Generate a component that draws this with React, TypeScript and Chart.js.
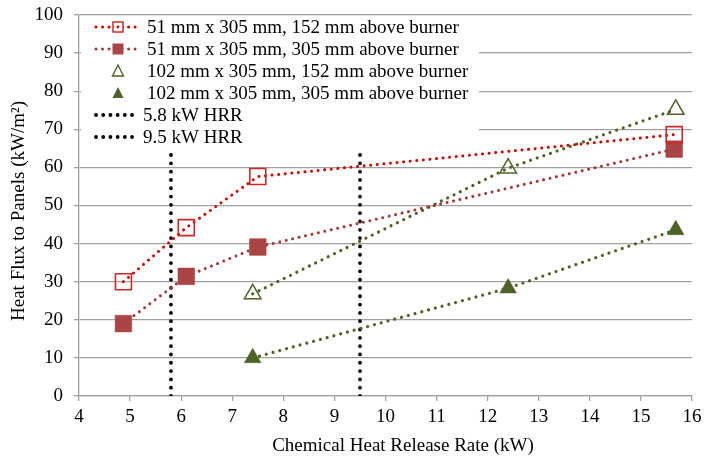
import React, { useEffect, useRef } from 'react';
import { Chart, registerables } from 'chart.js';

Chart.register(...registerables);

// ---- data ----
const hrrNarrow = [4.87, 6.1, 7.5, 15.65];
const fluxNarrow152 = [30, 44.2, 57.6, 68.6];
const fluxNarrow305 = [19, 31.4, 39.1, 64.8];
const hrrWide = [7.4, 12.4, 15.68];
const fluxWide152 = [26.8, 59.8, 75.2];
const fluxWide305 = [10, 28.3, 43.6];
const hrrReference = [5.8, 9.5];
const referenceSpan = [0, 65];

const seriesLabels = [
  '51 mm x 305 mm, 152 mm above burner',
  '51 mm x 305 mm, 305 mm above burner',
  '102 mm x 305 mm, 152 mm above burner',
  '102 mm x 305 mm, 305 mm above burner',
  '5.8 kW HRR',
  '9.5 kW HRR',
];

const X_MIN = 4;
const X_MAX = 16;
const X_STEP = 1;
const Y_MIN = 0;
const Y_MAX = 100;
const Y_STEP = 10;

const xTitle = 'Chemical Heat Release Rate (kW)';
const yTitle = 'Heat Flux to Panels (kW/m²)';

// ---- styles ----
const FONT = '"Liberation Serif", "Times New Roman", serif';
const FONT_SIZE = 19;
const RED = '#d00000';
const RED_MARK = '#cc2a2a';
const DARK_RED = '#9e3a3a';
const DARK_RED_MARK = '#aa4545';
const GREEN = '#4f6228';
const GRID = '#a0a0a0';

const pts = (xs: number[], ys: number[]) => xs.map((x, i) => ({ x, y: ys[i] }));

type Sample = {
  line?: { color: string; width: number; dash: number[]; x0: number; x1: number };
  marker?: 'openRect' | 'rect' | 'openTri' | 'tri';
  color?: string;
  textX: number;
};

const legendSamples: Sample[] = [
  { line: { color: RED, width: 3, dash: [0.01, 6.5], x0: 96, x1: 138 }, marker: 'openRect', color: RED_MARK, textX: 147 },
  { line: { color: DARK_RED, width: 3, dash: [0.01, 6.5], x0: 96, x1: 138 }, marker: 'rect', color: DARK_RED_MARK, textX: 147 },
  { marker: 'openTri', color: GREEN, textX: 147 },
  { marker: 'tri', color: GREEN, textX: 147 },
  { line: { color: '#000', width: 3.8, dash: [0.01, 7.2], x0: 96, x1: 133 }, textX: 143 },
  { line: { color: '#000', width: 3.8, dash: [0.01, 7.2], x0: 96, x1: 133 }, textX: 143 },
];

const legendPlugin = {
  id: 'excelLegend',
  afterDatasetsDraw(chart: any) {
    const ctx: CanvasRenderingContext2D = chart.ctx;
    ctx.save();
    ctx.fillStyle = '#ffffff';
    ctx.fillRect(81, 17, 398, 130);
    const rowY0 = 27;
    const rowH = 22;
    chart.data.datasets.forEach((ds: any, i: number) => {
      const s = legendSamples[i];
      const y = rowY0 + i * rowH;
      if (s.line) {
        ctx.save();
        ctx.strokeStyle = s.line.color;
        ctx.lineWidth = s.line.width;
        ctx.lineCap = 'round';
        ctx.setLineDash(s.line.dash);
        ctx.beginPath();
        ctx.moveTo(s.line.x0, y);
        ctx.lineTo(s.line.x1, y);
        ctx.stroke();
        ctx.restore();
      }
      const mx = 118;
      if (s.marker === 'openRect' || s.marker === 'rect') {
        const h = s.marker === 'rect' ? 5.5 : 5;
        if (s.marker === 'rect') {
          ctx.fillStyle = s.color!;
          ctx.fillRect(mx - h, y - h, 2 * h, 2 * h);
        } else {
          ctx.fillStyle = '#fff';
          ctx.fillRect(mx - h, y - h, 2 * h, 2 * h);
          ctx.strokeStyle = s.color!;
          ctx.lineWidth = 1.5;
          ctx.setLineDash([]);
          ctx.strokeRect(mx - h, y - h, 2 * h, 2 * h);
          ctx.fillStyle = RED;
          ctx.beginPath();
          ctx.arc(mx, y, 1.4, 0, Math.PI * 2);
          ctx.fill();
        }
      } else if (s.marker === 'openTri' || s.marker === 'tri') {
        const w = 5.5;
        ctx.beginPath();
        ctx.moveTo(mx, y - 6);
        ctx.lineTo(mx + w, y + 5);
        ctx.lineTo(mx - w, y + 5);
        ctx.closePath();
        if (s.marker === 'tri') {
          ctx.fillStyle = s.color!;
          ctx.fill();
        } else {
          ctx.strokeStyle = s.color!;
          ctx.lineWidth = 1.4;
          ctx.setLineDash([]);
          ctx.stroke();
        }
      }
      ctx.fillStyle = '#000';
      ctx.font = `${FONT_SIZE}px ${FONT}`;
      ctx.textAlign = 'left';
      ctx.textBaseline = 'middle';
      ctx.fillText(ds.label, s.textX, y + 1);
    });
    ctx.restore();
  },
};

const titlePlugin = {
  id: 'axisTitles',
  afterDraw(chart: any) {
    const ctx: CanvasRenderingContext2D = chart.ctx;
    ctx.save();
    ctx.fillStyle = '#000';
    ctx.font = `${FONT_SIZE}px ${FONT}`;
    ctx.textAlign = 'center';
    ctx.textBaseline = 'middle';
    ctx.fillText(xTitle, 403, 446);
    ctx.translate(19, 211);
    ctx.rotate(-Math.PI / 2);
    ctx.fillText(yTitle, 0, 0);
    ctx.restore();
  },
};

export default function App() {
  const ref = useRef<HTMLCanvasElement | null>(null);

  useEffect(() => {
    if (!ref.current) return;
    Chart.defaults.font.family = FONT;
    Chart.defaults.font.size = FONT_SIZE;
    Chart.defaults.color = '#000';

    const dotted = (color: string, width: number, gap: number) => ({
      borderColor: color,
      borderWidth: width,
      borderDash: [0.01, gap],
      borderCapStyle: 'round' as const,
      tension: 0,
      fill: false,
    });

    const chart = new Chart(ref.current, {
      type: 'line',
      data: {
        datasets: [
          {
            label: seriesLabels[0],
            data: pts(hrrNarrow, fluxNarrow152),
            ...dotted(RED, 3, 6.6),
            pointStyle: 'rect',
            pointRadius: 11.3,
            pointBorderWidth: 1.6,
            pointBorderColor: RED_MARK,
            pointBackgroundColor: 'rgba(0,0,0,0)',
          },
          {
            label: seriesLabels[1],
            data: pts(hrrNarrow, fluxNarrow305),
            ...dotted(DARK_RED, 3, 6.6),
            pointStyle: 'rect',
            pointRadius: 11.8,
            pointBorderWidth: 0.5,
            pointBorderColor: DARK_RED_MARK,
            pointBackgroundColor: DARK_RED_MARK,
          },
          {
            label: seriesLabels[2],
            data: pts(hrrWide, fluxWide152),
            ...dotted(GREEN, 3.2, 7),
            pointStyle: 'triangle',
            pointRadius: 9.6,
            pointBorderWidth: 1.5,
            pointBorderColor: GREEN,
            pointBackgroundColor: 'rgba(0,0,0,0)',
          },
          {
            label: seriesLabels[3],
            data: pts(hrrWide, fluxWide305),
            ...dotted(GREEN, 3.2, 7),
            pointStyle: 'triangle',
            pointRadius: 9.6,
            pointBorderWidth: 0.5,
            pointBorderColor: GREEN,
            pointBackgroundColor: GREEN,
          },
          {
            label: seriesLabels[4],
            data: referenceSpan.map((y) => ({ x: hrrReference[0], y })),
            ...dotted('#000', 3.8, 8.3),
            pointRadius: 0,
          },
          {
            label: seriesLabels[5],
            data: referenceSpan.map((y) => ({ x: hrrReference[1], y })),
            ...dotted('#000', 3.8, 8.3),
            pointRadius: 0,
          },
        ],
      },
      options: {
        animation: false,
        responsive: false,
        devicePixelRatio: 1,
        layout: { padding: { top: 15, right: 12, bottom: 0, left: 0 } },
        plugins: {
          legend: { display: false },
          tooltip: { enabled: false },
        },
        scales: {
          x: {
            type: 'linear',
            min: X_MIN,
            max: X_MAX,
            ticks: { stepSize: X_STEP, padding: 5, color: '#000', font: { size: FONT_SIZE, family: FONT } },
            grid: { drawOnChartArea: false, drawTicks: true, tickLength: 5, color: GRID, lineWidth: 1.3 },
            border: { color: GRID, width: 1.3 },
            afterFit: (scale: any) => {
              scale.height = 64;
              scale.paddingLeft = 0;
              scale.paddingRight = 0;
            },
          },
          y: {
            type: 'linear',
            min: Y_MIN,
            max: Y_MAX,
            ticks: { stepSize: Y_STEP, padding: 11, color: '#000', font: { size: FONT_SIZE, family: FONT } },
            grid: { drawTicks: true, tickLength: 5, color: GRID, lineWidth: 1.3 },
            border: { color: GRID, width: 1.3 },
            afterFit: (scale: any) => {
              scale.width = 79;
              scale.paddingTop = 0;
              scale.paddingBottom = 0;
            },
          },
        },
      },
      plugins: [legendPlugin, titlePlugin],
    } as any);

    return () => chart.destroy();
  }, []);

  return (
    <div style={{ position: 'absolute', left: 0, top: 0, width: 705, height: 460, background: '#fff' }}>
      <canvas ref={ref} width={705} height={460} style={{ display: 'block', width: 705, height: 460 }} />
    </div>
  );
}
